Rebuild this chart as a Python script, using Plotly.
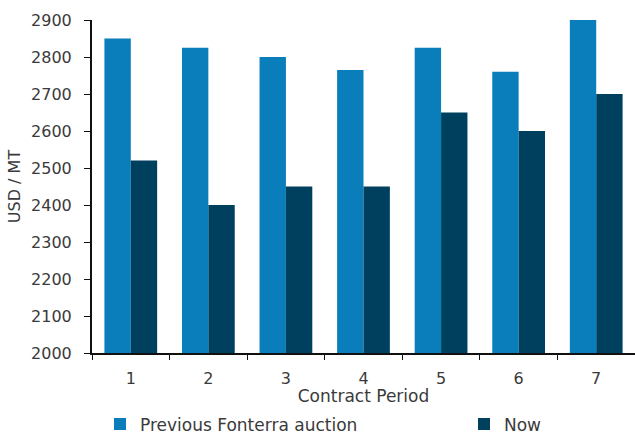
import plotly.graph_objects as go

# Contract periods and prices (USD per metric tonne)
periods = ["1", "2", "3", "4", "5", "6", "7"]
previous_auction = [2850, 2825, 2800, 2765, 2825, 2760, 2900]
now = [2520, 2400, 2450, 2450, 2650, 2600, 2700]

LIGHT = "#0A7DBB"
DARK = "#00405F"
TEXT = "#3a3a3a"
FONT = "DejaVu Sans"

fig = go.Figure()
fig.add_trace(go.Bar(x=periods, y=previous_auction, name="Previous Fonterra auction",
                     marker=dict(color=LIGHT, line=dict(width=0)), legend="legend"))
fig.add_trace(go.Bar(x=periods, y=now, name="Now",
                     marker=dict(color=DARK, line=dict(width=0)), legend="legend2"))

legend_style = dict(orientation="h", xref="container", xanchor="left",
                    y=0.022, yref="container", yanchor="middle",
                    font=dict(family=FONT, size=17, color=TEXT),
                    itemwidth=30, bgcolor="rgba(0,0,0,0)")

fig.update_layout(
    width=635, height=434,
    margin=dict(l=92, r=0, t=20, b=81),
    paper_bgcolor="white", plot_bgcolor="white",
    barmode="group", bargap=0.32, bargroupgap=0,
    font=dict(family=FONT, size=16, color=TEXT),
    showlegend=True,
    legend=dict(x=100 / 635, **legend_style),
    legend2=dict(x=464 / 635, **legend_style),
)

fig.update_xaxes(
    type="category", automargin=False,
    showline=True, linecolor="#111111", linewidth=2,
    ticks="outside", tickson="boundaries", ticklen=5, tickcolor="#111111", tickwidth=1,
    ticklabelstandoff=10,
    showgrid=False, zeroline=False,
    tickfont=dict(family=FONT, size=16, color=TEXT),
    title=dict(text="Contract Period", standoff=12, font=dict(family=FONT, size=17, color=TEXT)),
)
fig.update_yaxes(
    range=[2000, 2900], dtick=100, automargin=False,
    showline=True, linecolor="#111111", linewidth=2,
    ticks="outside", ticklen=6, tickcolor="#111111", tickwidth=1,
    ticklabelstandoff=9,
    showgrid=False, zeroline=False,
    tickfont=dict(family=FONT, size=16, color=TEXT),
    title=dict(text="USD / MT", standoff=6, font=dict(family=FONT, size=16, color=TEXT)),
)

fig.write_html("out.html")
